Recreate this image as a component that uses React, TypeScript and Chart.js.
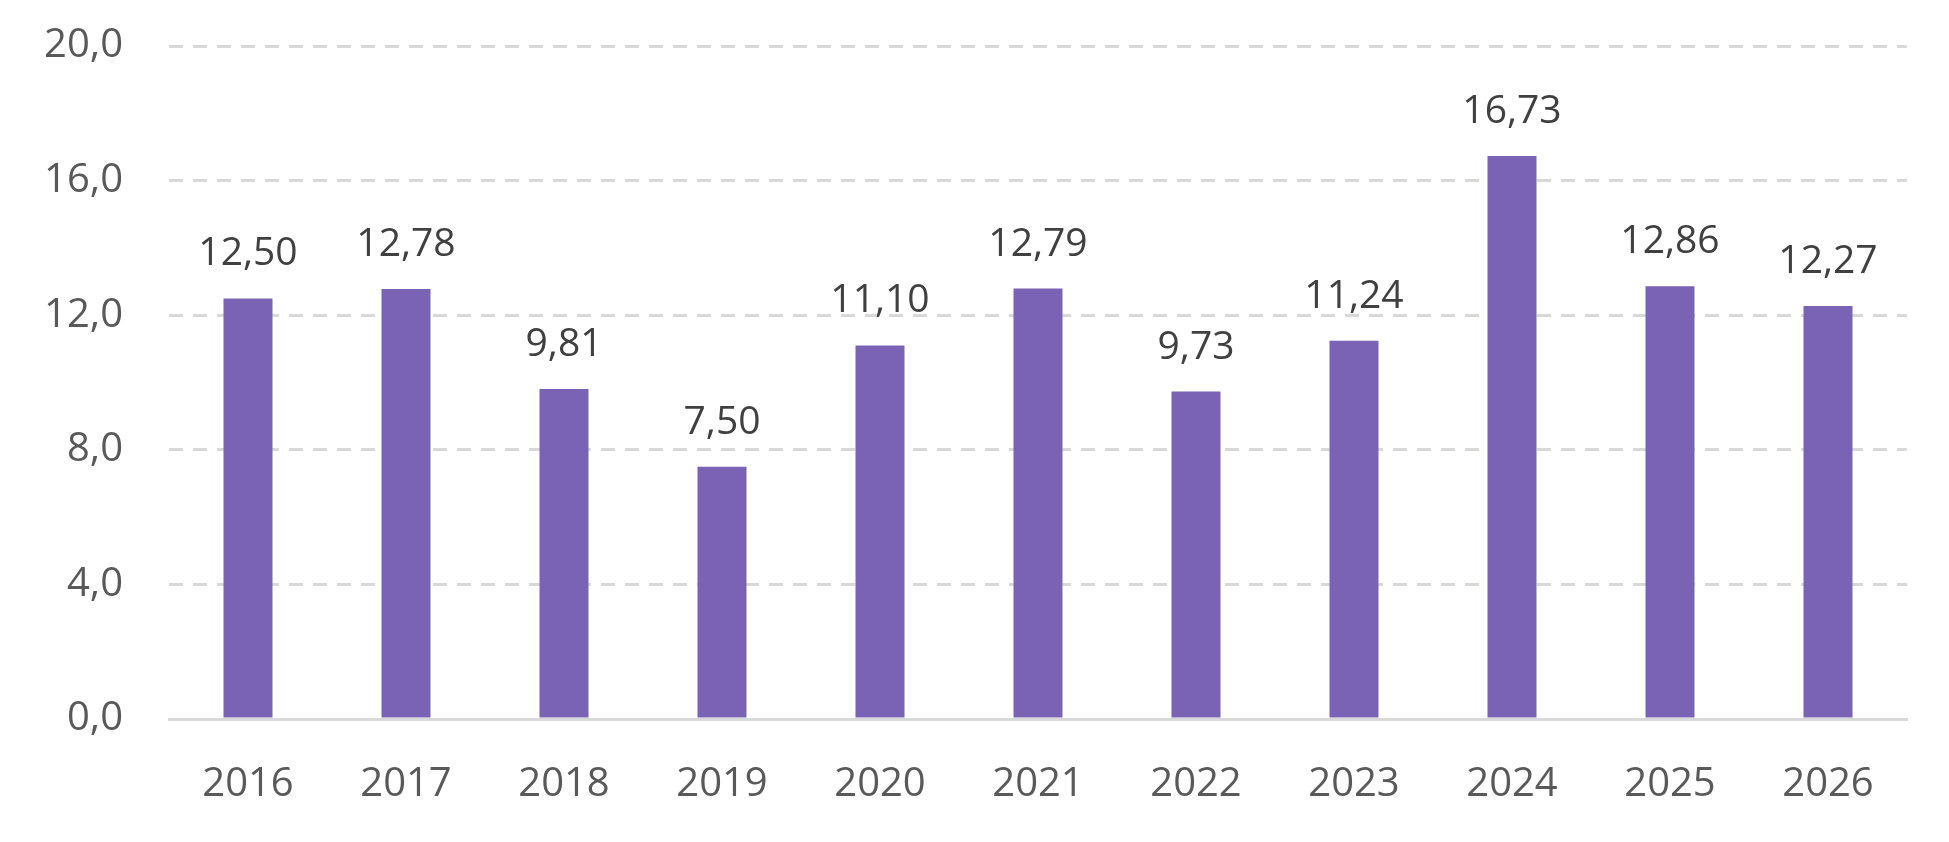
import React, { useEffect, useRef } from "react";
import { Chart, registerables } from "chart.js";

Chart.register(...registerables);

const categories = ["2016", "2017", "2018", "2019", "2020", "2021", "2022", "2023", "2024", "2025", "2026"];
const values = [12.5, 12.78, 9.81, 7.5, 11.1, 12.79, 9.73, 11.24, 16.73, 12.86, 12.27];
const yTicks = [0, 4, 8, 12, 16, 20];

const FONT = "'Open Sans', 'DejaVu Sans', sans-serif";

const fmt2 = (v: number) => v.toFixed(2).replace(".", ",");
const fmt1 = (v: number) => v.toFixed(1).replace(".", ",");

const valueLabels = {
  id: "valueLabels",
  afterDatasetsDraw(chart: any) {
    const ctx = chart.ctx;
    const meta = chart.getDatasetMeta(0);
    ctx.save();
    ctx.font = `39px ${FONT}`;
    ctx.fillStyle = "#404040";
    ctx.textAlign = "center";
    ctx.textBaseline = "alphabetic";
    meta.data.forEach((el: any, i: number) => {
      ctx.fillText(fmt2(values[i]), el.x, el.y - 33);
    });
    ctx.restore();
  },
};

export default function App() {
  const ref = useRef<HTMLCanvasElement | null>(null);
  useEffect(() => {
    if (!ref.current) return;
    const chart = new Chart(ref.current, {
      type: "bar",
      data: {
        labels: categories,
        datasets: [
          {
            data: values,
            backgroundColor: "#7A62B4",
            borderWidth: 0,
            barPercentage: 0.62,
            categoryPercentage: 0.5,
          },
        ],
      },
      options: {
        animation: false,
        responsive: false,
        maintainAspectRatio: false,
        devicePixelRatio: 1,
        layout: { padding: { top: 46, right: 42, bottom: 0, left: 0 } },
        plugins: { legend: { display: false }, tooltip: { enabled: false } },
        scales: {
          x: {
            grid: { display: false },
            border: { display: true, color: "#D9D9D9", width: 3 },
            ticks: {
              color: "#595959",
              font: { family: FONT, size: 40 },
              padding: 34,
            },
            afterFit: (s: any) => {
              s.height = 123;
              s.paddingLeft = 0;
              s.paddingRight = 0;
            },
          },
          y: {
            min: 0,
            max: 20,
            afterBuildTicks: (s: any) => {
              s.ticks = yTicks.map((v) => ({ value: v }));
            },
            grid: {
              color: "#D9D9D9",
              lineWidth: 3,
              drawTicks: false,
            },
            border: { display: false, dash: [14, 10] },
            ticks: {
              color: "#595959",
              font: { family: FONT, size: 40 },
              padding: 46,
              callback: (v: any) => fmt1(Number(v)),
            },
            afterFit: (s: any) => {
              s.width = 169;
              s.paddingTop = 0;
              s.paddingBottom = 0;
            },
          },
        },
      },
      plugins: [valueLabels],
    });
    return () => chart.destroy();
  }, []);
  return (
    <div style={{ position: "fixed", left: 0, top: 0, width: 1949, height: 842, background: "#fff" }}>
      <canvas ref={ref} width={1949} height={842} style={{ width: 1949, height: 842, display: "block" }} />
    </div>
  );
}
